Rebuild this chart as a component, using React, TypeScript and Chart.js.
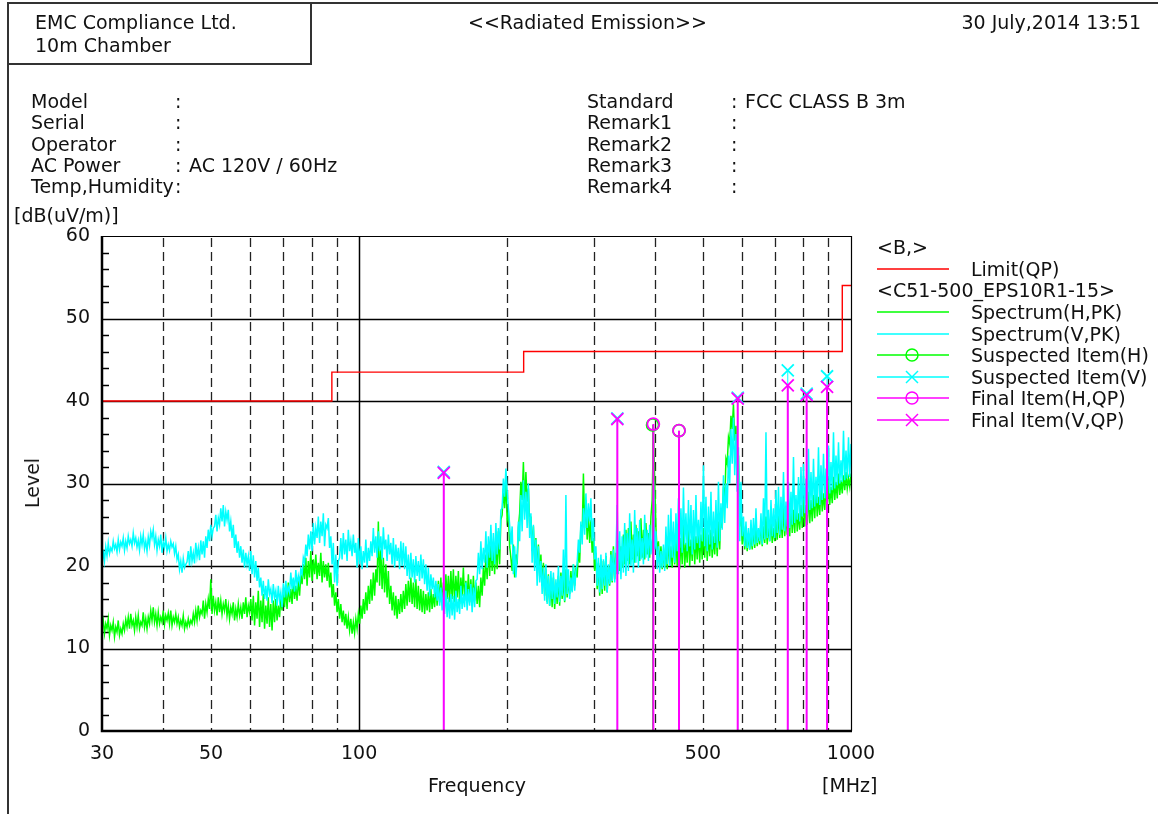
import React, { useEffect, useRef } from "react";
import { Chart, registerables } from "chart.js";

Chart.register(...registerables);

const FONT = '"DejaVu Sans", sans-serif';
const W = 1158;
const H = 814;

// ---------------- data ----------------
const limitFreq = [30, 88, 88, 216, 216, 960, 960, 1000];
const limitLevel = [40, 40, 43.5, 43.5, 46, 46, 54, 54];

const suspHFreq = [395.0, 447.0];
const suspHLevel = [37.1, 36.4];
const suspVFreq = [148.6, 334.9, 588.4, 743.8, 812.5, 894.0];
const suspVLevel = [31.4, 37.9, 40.4, 43.7, 40.9, 43.0];
const finalHFreq = [396.4, 447.0];
const finalHLevel = [37.2, 36.4];
const finalVFreq = [148.6, 334.9, 588.4, 743.8, 812.5, 894.0];
const finalVLevel = [31.3, 37.8, 40.3, 41.9, 40.7, 41.7];

const yTickValues = [0, 10, 20, 30, 40, 50, 60];
const xTickLabels = [30, 50, 100, 500, 1000];
const xGridDashed = [40, 50, 60, 70, 80, 90, 200, 300, 400, 500, 600, 700, 800, 900];
const xGridSolid = [100];
const yGridSolid = [10, 20, 30, 40, 50];

// Spectrum (V, PK) level readings along the sweep, 30 -> 1000 MHz
const specV = [
  20.1, 21.9, 20.6, 22.3, 21.2, 22.8, 21.5, 22.2, 21.8, 23.0, 22.1, 22.6, 21.7, 23.2, 22.0, 22.9, 22.4, 23.4, 21.9, 23.0,
  22.2, 23.6, 22.7, 23.2, 22.4, 24.0, 22.8, 23.4, 22.3, 23.1, 21.9, 23.6, 22.6, 23.8, 22.1, 23.0, 21.8, 23.5, 22.5, 24.2,
  23.4, 24.4, 22.6, 23.6, 21.9, 23.2, 22.4, 23.8, 21.6, 22.9, 22.2, 23.4, 21.8, 22.6, 21.9, 23.0, 22.3, 22.7, 21.5, 22.4,
  20.8, 21.4, 19.6, 20.6, 19.2, 20.9, 19.8, 20.2, 20.5, 21.8, 20.0, 22.4, 20.6, 21.6, 20.3, 22.8, 21.1, 22.2, 20.7, 23.1,
  21.4, 23.0, 21.0, 23.6, 22.2, 24.4, 23.0, 25.0, 23.6, 24.6, 24.8, 26.2, 24.2, 25.8, 25.0, 27.0, 25.4, 27.4, 24.8, 26.6,
  25.6, 26.8, 24.2, 25.4, 23.4, 25.0, 22.2, 23.8, 21.6, 23.0, 21.0, 22.4, 20.4, 22.0, 19.8, 21.6, 20.2, 21.2, 19.4, 21.8,
  19.0, 21.3, 18.6, 20.6, 18.2, 19.8, 17.4, 18.6, 16.4, 18.2, 16.0, 17.6, 15.8, 18.4, 16.6, 17.2, 15.5, 17.8, 16.2, 17.0,
  15.2, 17.6, 15.8, 16.8, 15.0, 17.9, 16.2, 18.2, 16.6, 17.4, 16.8, 19.2, 17.2, 18.6, 16.9, 19.5, 17.6, 18.8, 18.0, 19.6,
  19.0, 21.0, 20.4, 22.6, 21.2, 23.8, 22.0, 24.2, 21.8, 25.2, 22.6, 24.6, 23.4, 26.0, 22.8, 25.4, 23.6, 26.4, 22.4, 25.0,
  24.6, 25.8, 22.2, 23.6, 20.2, 22.8, 18.0, 21.4, 17.6, 20.6, 21.0, 23.4, 20.8, 24.0, 21.4, 23.2, 20.6, 24.4, 21.8, 23.0,
  21.2, 23.8, 21.6, 22.8, 19.8, 23.4, 20.2, 22.4, 19.6, 21.8, 20.4, 23.2, 19.8, 22.2, 20.6, 23.0, 21.2, 24.6, 21.6, 23.6,
  21.0, 24.2, 21.8, 23.6, 20.8, 24.7, 22.0, 23.2, 20.6, 23.8, 21.4, 22.8, 20.2, 23.4, 19.8, 22.6, 20.6, 22.2, 19.6, 23.0,
  20.0, 22.8, 19.6, 22.4, 18.8, 21.4, 18.4, 21.6, 18.6, 20.8, 18.0, 21.2, 18.8, 20.6, 18.2, 21.4, 18.5, 20.8, 17.8, 20.2,
  17.0, 19.8, 16.4, 19.0, 17.2, 18.6, 16.2, 18.2, 15.8, 17.8, 15.2, 17.4, 14.6, 16.8, 14.2, 17.0, 13.8, 16.2, 13.6, 16.6,
  14.0, 16.4, 13.5, 17.0, 14.4, 16.0, 14.2, 17.6, 14.8, 16.6, 15.0, 18.0, 14.6, 17.2, 15.2, 17.8, 14.4, 17.4, 15.0, 18.2,
  18.4, 21.6, 19.0, 23.0, 19.6, 22.2, 20.4, 24.2, 19.8, 23.6, 21.0, 25.0, 20.6, 24.0, 20.2, 25.2, 21.4, 24.6, 22.0, 26.8,
  27.0, 30.6, 28.4, 31.8, 29.2, 27.0, 25.0, 22.6, 24.8, 19.0, 22.4, 18.6, 21.0, 25.4, 23.0, 28.6, 24.2, 30.4, 25.6, 29.0,
  24.6, 30.0, 23.4, 26.4, 20.4, 25.0, 19.4, 23.2, 17.6, 22.4, 18.0, 20.6, 16.6, 19.8, 15.8, 20.2, 15.4, 18.8, 15.2, 19.4,
  16.0, 19.2, 15.4, 18.4, 16.2, 20.0, 15.6, 18.8, 16.4, 22.0, 15.8, 28.6, 16.6, 19.6, 16.0, 18.6, 16.8, 20.2, 17.0, 19.4,
  20.4, 23.2, 21.6, 25.4, 22.6, 27.0, 23.8, 28.8, 24.6, 27.6, 25.4, 28.2, 23.0, 25.8, 20.8, 22.4, 17.6, 21.0, 16.8, 21.4,
  17.2, 20.8, 17.6, 21.6, 16.8, 20.2, 17.8, 21.4, 18.2, 22.0, 18.0, 21.0, 27.4, 19.0, 24.2, 18.4, 23.6, 19.2, 25.2, 18.8,
  24.0, 19.4, 26.4, 20.0, 23.2, 19.2, 26.8, 20.4, 24.6, 19.8, 25.6, 20.8, 23.4, 20.2, 26.2, 21.0, 24.4, 20.6, 25.0, 21.4,
  23.4, 30.4, 22.0, 24.2, 19.6, 22.4, 19.2, 21.8, 19.8, 22.6, 19.4, 24.8, 20.2, 26.2, 20.0, 27.0, 21.0, 25.4, 20.4, 26.4,
  21.8, 28.2, 22.2, 27.0, 21.6, 29.5, 22.6, 26.4, 21.8, 28.0, 22.4, 27.4, 21.4, 26.8, 22.0, 28.6, 22.8, 25.6, 22.2, 27.8,
  23.0, 32.2, 22.4, 28.4, 21.8, 27.2, 22.6, 29.0, 22.0, 26.6, 22.8, 28.0, 22.2, 30.2, 23.0, 27.6, 24.4, 31.0, 25.2, 30.0,
  27.0, 33.4, 30.0, 36.6, 32.4, 38.0, 31.0, 36.0, 29.0, 34.4, 23.0, 30.2, 23.6, 26.0, 22.4, 25.4, 22.2, 24.6, 22.0, 25.6,
  22.4, 25.8, 22.6, 27.0, 22.8, 24.6, 23.0, 26.4, 22.6, 28.2, 23.2, 36.2, 23.4, 26.8, 23.0, 28.0, 23.6, 27.0, 23.4, 29.2,
  24.0, 29.6, 23.8, 28.4, 24.4, 31.4, 24.2, 27.8, 24.8, 30.2, 24.6, 29.0, 25.0, 33.2, 25.2, 28.6, 25.6, 30.8, 25.4, 32.0,
  26.0, 32.4, 26.4, 30.6, 26.2, 34.2, 26.8, 31.4, 27.0, 33.0, 27.2, 30.8, 27.6, 34.4, 27.4, 32.2, 28.0, 33.6, 28.2, 31.8,
  28.6, 34.6, 28.8, 32.6, 29.2, 36.2, 29.4, 33.4, 29.8, 35.0, 30.0, 32.8, 30.2, 36.4, 30.4, 34.0, 30.6, 35.6, 30.8, 34.8,
];

// Spectrum (H, PK) level readings along the same sweep
const specH = [
  12.6, 13.4, 11.8, 13.0, 12.4, 13.6, 11.6, 12.8, 12.2, 13.2, 11.4, 12.6, 12.0, 13.4, 11.6, 12.4, 11.8, 13.0, 12.2, 13.5,
  12.6, 13.8, 12.4, 14.2, 12.8, 13.4, 12.2, 13.8, 12.6, 14.0, 12.4, 13.2, 12.8, 14.4, 12.6, 13.6, 12.4, 13.8, 13.0, 14.6,
  13.4, 15.0, 13.2, 14.2, 12.8, 14.4, 13.0, 13.8, 13.2, 14.6, 12.9, 14.0, 13.4, 14.3, 13.0, 14.6, 12.8, 13.8, 13.2, 14.2,
  13.0, 13.8, 12.6, 13.4, 12.8, 14.0, 12.4, 13.2, 12.6, 13.6, 12.8, 13.4, 13.0, 14.2, 13.2, 14.6, 13.4, 15.2, 13.8, 14.6,
  14.2, 15.8, 13.6, 15.4, 14.4, 16.0, 14.8, 18.4, 14.2, 16.4, 14.6, 15.6, 14.0, 16.2, 14.4, 15.8, 14.2, 15.4, 14.6, 16.0,
  14.0, 15.2, 13.6, 15.0, 14.2, 15.6, 13.4, 14.8, 13.8, 15.4, 14.0, 15.0, 13.6, 15.6, 14.2, 16.2, 13.8, 15.2, 14.4, 16.0,
  13.4, 16.4, 12.8, 15.6, 13.6, 17.0, 12.6, 15.8, 13.2, 16.6, 12.4, 15.2, 13.0, 16.2, 12.6, 15.4, 12.2, 15.8, 13.2, 16.0,
  13.4, 15.2, 13.8, 16.2, 14.6, 16.8, 15.0, 17.4, 14.8, 18.0, 15.6, 17.2, 15.4, 18.4, 16.0, 17.6, 15.8, 18.6, 16.4, 19.0,
  17.8, 20.2, 18.4, 21.0, 17.6, 20.6, 18.6, 21.8, 18.2, 20.8, 19.0, 21.4, 18.4, 20.4, 18.8, 21.6, 18.0, 20.6, 18.6, 20.2,
  18.2, 20.4, 17.4, 19.2, 16.2, 17.8, 15.2, 16.8, 14.4, 16.0, 13.6, 15.4, 13.2, 14.6, 12.8, 14.2, 12.4, 13.8, 12.2, 13.6,
  11.8, 13.2, 11.9, 13.6, 12.4, 14.2, 13.0, 15.2, 13.6, 16.0, 14.2, 16.8, 14.6, 17.6, 15.4, 18.4, 15.8, 19.2, 16.4, 19.6,
  18.0, 25.4, 17.6, 22.0, 17.2, 21.0, 16.8, 20.2, 16.2, 19.4, 15.4, 17.6, 14.6, 16.8, 14.0, 16.4, 13.6, 16.0, 14.2, 16.6,
  14.4, 17.0, 14.8, 17.8, 15.2, 18.2, 15.6, 18.6, 15.4, 18.0, 15.0, 18.4, 14.8, 17.6, 14.6, 17.2, 14.4, 17.0, 14.2, 16.6,
  14.6, 16.8, 14.4, 17.2, 14.8, 16.6, 15.0, 17.8, 15.2, 18.2, 15.6, 18.6, 15.4, 18.0, 15.8, 19.0, 16.0, 18.8, 15.6, 19.4,
  16.0, 19.6, 15.6, 18.8, 16.2, 19.4, 15.4, 18.6, 16.4, 19.8, 15.8, 18.2, 16.0, 19.0, 15.6, 18.4, 15.2, 18.8, 15.8, 18.0,
  15.4, 17.6, 15.0, 18.6, 16.4, 19.8, 17.6, 21.4, 18.4, 22.6, 18.8, 23.0, 19.4, 22.2, 19.0, 23.6, 19.6, 24.2, 20.2, 25.6,
  26.2, 29.4, 27.0, 30.2, 25.6, 26.4, 22.4, 21.0, 19.4, 22.6, 18.6, 21.4, 20.2, 24.6, 26.4, 30.2, 28.0, 32.6, 27.2, 31.4,
  27.8, 29.4, 24.6, 26.0, 21.8, 24.8, 20.4, 23.4, 19.2, 22.6, 18.8, 21.4, 17.6, 20.4, 16.4, 19.6, 15.6, 19.0, 15.2, 18.2,
  15.0, 18.6, 14.8, 17.6, 15.4, 18.8, 15.2, 19.2, 16.0, 18.4, 15.6, 19.6, 16.2, 18.2, 16.6, 19.4, 17.0, 20.2, 17.6, 19.8,
  18.6, 22.0, 20.4, 25.0, 23.6, 31.2, 24.6, 28.0, 23.2, 26.4, 22.8, 25.6, 21.6, 23.4, 19.4, 21.6, 17.2, 20.4, 16.4, 20.8,
  16.6, 20.6, 17.0, 21.2, 16.8, 20.0, 17.6, 21.8, 18.0, 22.4, 18.4, 21.6, 19.0, 23.0, 19.4, 22.4, 19.8, 23.8, 20.2, 24.4,
  20.6, 24.6, 20.2, 25.4, 20.8, 23.8, 20.4, 25.0, 21.2, 24.2, 20.6, 25.8, 21.0, 24.4, 20.8, 25.2, 21.4, 24.0, 21.0, 26.0,
  28.0, 36.8, 30.4, 24.6, 21.6, 23.0, 19.8, 22.4, 19.6, 21.8, 19.8, 22.8, 19.6, 23.6, 20.0, 22.4, 19.8, 24.0, 20.2, 23.2,
  20.0, 24.2, 19.6, 23.4, 20.2, 25.0, 19.8, 22.8, 20.4, 24.4, 20.0, 23.2, 20.6, 24.8, 20.2, 23.6, 20.8, 24.0, 20.4, 23.8,
  20.8, 24.6, 21.0, 25.0, 20.6, 23.8, 21.2, 24.4, 21.0, 23.6, 21.4, 24.8, 21.2, 25.4, 22.0, 27.0, 24.6, 29.6, 27.4, 33.0,
  32.4, 35.6, 34.8, 38.2, 36.6, 39.6, 35.2, 37.0, 30.0, 33.4, 24.8, 27.0, 22.6, 24.8, 22.0, 24.4, 21.8, 24.0, 22.0, 23.8,
  22.0, 24.6, 22.2, 25.2, 22.4, 24.2, 22.6, 25.6, 22.4, 24.8, 22.8, 26.0, 22.6, 25.0, 23.0, 25.6, 22.8, 24.6, 23.0, 25.4,
  23.2, 26.6, 23.4, 25.8, 23.4, 27.2, 23.6, 26.0, 23.8, 26.4, 23.6, 27.6, 24.0, 26.8, 24.0, 28.0, 24.2, 26.4, 24.4, 27.4,
  24.6, 28.2, 24.8, 27.4, 25.0, 29.0, 25.2, 28.0, 25.4, 28.6, 25.8, 29.4, 26.0, 28.4, 26.2, 29.8, 26.6, 28.8, 26.8, 30.0,
  27.0, 30.4, 27.4, 29.6, 27.6, 30.8, 28.0, 30.2, 28.2, 31.2, 28.6, 30.4, 28.8, 31.0, 29.2, 31.4, 29.4, 30.6, 29.6, 31.2,
];

// sweep frequency grid of the receiver (log spaced, 30 - 1000 MHz)
const SWEEP_START = 30;
const SWEEP_STOP = 1000;
const sweepFreq = (n: number) =>
  Array.from({ length: n }, (_, i) => SWEEP_START * Math.pow(SWEEP_STOP / SWEEP_START, i / (n - 1)));

const RED = "#ff0000";
const GREEN = "#00ff00";
const CYAN = "#00ffff";
const MAGENTA = "#ff00ff";

const toXY = (fs: number[], vs: number[]) => fs.map((f, i) => ({ x: f, y: vs[i] }));
const sticks = (fs: number[], vs: number[]) => {
  const out: any[] = [];
  fs.forEach((f, i) => {
    out.push({ x: f, y: 0 }, { x: f, y: vs[i] }, { x: f, y: null });
  });
  return out;
};

const gridPlugin = {
  id: "emcGrid",
  beforeDatasetsDraw(chart: any) {
    const { ctx, chartArea } = chart;
    const { left, right, top, bottom } = chartArea;
    const xs = chart.scales.x;
    const ys = chart.scales.y;
    ctx.save();
    ctx.strokeStyle = "#000";
    ctx.lineWidth = 1.5;
    ctx.setLineDash([]);
    yGridSolid.forEach((v) => {
      const y = Math.round(ys.getPixelForValue(v)) + 0.5;
      ctx.beginPath();
      ctx.moveTo(left, y);
      ctx.lineTo(right, y);
      ctx.stroke();
    });
    xGridSolid.forEach((v) => {
      const x = Math.round(xs.getPixelForValue(v)) + 0.5;
      ctx.beginPath();
      ctx.moveTo(x, top);
      ctx.lineTo(x, bottom);
      ctx.stroke();
    });
    ctx.strokeStyle = "#222";
    ctx.lineWidth = 1.3;
    ctx.setLineDash([9, 5]);
    xGridDashed.forEach((v) => {
      const x = Math.round(xs.getPixelForValue(v)) + 0.5;
      ctx.beginPath();
      ctx.moveTo(x, top + 2);
      ctx.lineTo(x, bottom);
      ctx.stroke();
    });
    ctx.setLineDash([]);
    ctx.strokeStyle = "#000";
    ctx.lineWidth = 1.5;
    for (let v = 2; v < 60; v += 2) {
      if (v % 10 === 0) continue;
      const y = Math.round(ys.getPixelForValue(v)) + 0.5;
      ctx.beginPath();
      ctx.moveTo(left, y);
      ctx.lineTo(left + 7, y);
      ctx.stroke();
    }
    ctx.restore();
  },
  afterDatasetsDraw(chart: any) {
    const { ctx, chartArea } = chart;
    const { left, right, top, bottom } = chartArea;
    ctx.save();
    ctx.strokeStyle = "#000";
    ctx.lineWidth = 1.2;
    ctx.beginPath();
    ctx.moveTo(left, top + 0.5);
    ctx.lineTo(right + 0.5, top + 0.5);
    ctx.lineTo(right + 0.5, bottom);
    ctx.stroke();
    ctx.lineWidth = 2.5;
    ctx.beginPath();
    ctx.moveTo(left, top);
    ctx.lineTo(left, bottom);
    ctx.lineTo(right + 1, bottom);
    ctx.stroke();
    ctx.restore();
  },
};

function ChartCanvas() {
  const ref = useRef<HTMLCanvasElement>(null);
  useEffect(() => {
    if (!ref.current) return;
    const fH = sweepFreq(specH.length);
    const fV = sweepFreq(specV.length);
    const chart = new Chart(ref.current, {
      type: "line",
      data: {
        datasets: [
          {
            label: "Final Item(V,QP)",
            data: toXY(finalVFreq, finalVLevel),
            showLine: false,
            pointStyle: "crossRot",
            pointRadius: 8.5,
            pointBorderWidth: 1.8,
            borderColor: MAGENTA,
            backgroundColor: "transparent",
            order: 0,
          },
          {
            label: "Final Item(H,QP)",
            data: toXY(finalHFreq, finalHLevel),
            showLine: false,
            pointStyle: "circle",
            pointRadius: 6,
            pointBorderWidth: 1.8,
            borderColor: MAGENTA,
            backgroundColor: "transparent",
            order: 1,
          },
          {
            label: "Suspected Item(V)",
            data: toXY(suspVFreq, suspVLevel),
            showLine: false,
            pointStyle: "crossRot",
            pointRadius: 8.5,
            pointBorderWidth: 1.8,
            borderColor: CYAN,
            backgroundColor: "transparent",
            order: 2,
          },
          {
            label: "Suspected Item(H)",
            data: toXY(suspHFreq, suspHLevel),
            showLine: false,
            pointStyle: "circle",
            pointRadius: 6,
            pointBorderWidth: 1.8,
            borderColor: GREEN,
            backgroundColor: "transparent",
            order: 3,
          },
          {
            label: "final sticks",
            data: [...sticks(finalVFreq, finalVLevel), ...sticks(finalHFreq, finalHLevel)],
            borderColor: MAGENTA,
            borderWidth: 2,
            pointRadius: 0,
            spanGaps: false,
            order: 4,
          },
          {
            label: "susp V sticks",
            data: sticks(suspVFreq, suspVLevel),
            borderColor: CYAN,
            borderWidth: 1,
            pointRadius: 0,
            spanGaps: false,
            order: 5,
          },
          {
            label: "susp H sticks",
            data: sticks(suspHFreq, suspHLevel),
            borderColor: GREEN,
            borderWidth: 1,
            pointRadius: 0,
            spanGaps: false,
            order: 6,
          },
          {
            label: "Limit(QP)",
            data: toXY(limitFreq, limitLevel),
            borderColor: RED,
            borderWidth: 1.4,
            pointRadius: 0,
            order: 7,
          },
          {
            label: "Spectrum(V,PK)",
            data: toXY(fV, specV),
            borderColor: CYAN,
            borderWidth: 1.5,
            pointRadius: 0,
            order: 8,
          },
          {
            label: "Spectrum(H,PK)",
            data: toXY(fH, specH),
            borderColor: GREEN,
            borderWidth: 1.5,
            pointRadius: 0,
            order: 9,
          },
        ],
      },
      options: {
        animation: false,
        responsive: false,
        events: [],
        layout: { padding: { left: 0, right: W - 851, top: 236, bottom: 43 } },
        plugins: { legend: { display: false }, tooltip: { enabled: false } },
        elements: { line: { tension: 0 } },
        scales: {
          x: {
            type: "logarithmic",
            min: 30,
            max: 1000,
            afterBuildTicks: (s: any) => {
              s.ticks = xTickLabels.map((v) => ({ value: v }));
            },
            afterFit: (s: any) => {
              s.height = 40;
            },
            ticks: {
              autoSkip: false,
              maxRotation: 0,
              padding: 12,
              color: "#111",
              font: { family: FONT, size: 19 },
              callback: (v: any) => String(v),
            },
            grid: { display: false, drawTicks: false },
            border: { display: false },
          },
          y: {
            type: "linear",
            min: 0,
            max: 60,
            afterBuildTicks: (s: any) => {
              s.ticks = yTickValues.map((v) => ({ value: v }));
            },
            afterFit: (s: any) => {
              s.width = 102;
            },
            ticks: {
              padding: 12,
              color: "#111",
              font: { family: FONT, size: 19 },
              callback: (v: any) => String(v),
            },
            grid: { display: false, drawTicks: false },
            border: { display: false },
          },
        },
      },
      plugins: [gridPlugin],
    } as any);
    return () => chart.destroy();
  }, []);
  return (
    <canvas
      ref={ref}
      width={W}
      height={H}
      style={{ position: "absolute", left: 0, top: 0, width: W, height: H }}
    />
  );
}

function T({ x, y, children, align = "left", style = {} }: any) {
  const s: any = {
    position: "absolute",
    top: y - 11,
    lineHeight: "22px",
    whiteSpace: "nowrap",
    ...style,
  };
  if (align === "left") s.left = x;
  else if (align === "right") s.right = W - x;
  else {
    s.left = x;
    s.transform = "translateX(-50%)";
  }
  return <div style={s}>{children}</div>;
}

function LegendSample({ y, color, marker }: any) {
  return (
    <svg width={76} height={18} style={{ position: "absolute", left: 875, top: y - 9 }}>
      <line x1={2} y1={9} x2={74} y2={9} stroke={color} strokeWidth={1.5} />
      {marker === "circle" && (
        <circle cx={37} cy={9} r={6} stroke={color} strokeWidth={1.5} fill="none" />
      )}
      {marker === "x" && (
        <g stroke={color} strokeWidth={1.5}>
          <line x1={31} y1={3} x2={43} y2={15} />
          <line x1={43} y1={3} x2={31} y2={15} />
        </g>
      )}
    </svg>
  );
}

const legendRows = [
  { label: "Limit(QP)", color: RED, marker: "", y: 269 },
  { label: "Spectrum(H,PK)", color: GREEN, marker: "", y: 312 },
  { label: "Spectrum(V,PK)", color: CYAN, marker: "", y: 334 },
  { label: "Suspected Item(H)", color: GREEN, marker: "circle", y: 355 },
  { label: "Suspected Item(V)", color: CYAN, marker: "x", y: 377 },
  { label: "Final Item(H,QP)", color: MAGENTA, marker: "circle", y: 398 },
  { label: "Final Item(V,QP)", color: MAGENTA, marker: "x", y: 420 },
];

const infoLeft = [
  { k: "Model", v: "", y: 101 },
  { k: "Serial", v: "", y: 122 },
  { k: "Operator", v: "", y: 144 },
  { k: "AC Power", v: "AC 120V / 60Hz", y: 165 },
  { k: "Temp,Humidity", v: "", y: 186 },
];
const infoRight = [
  { k: "Standard", v: "FCC CLASS B 3m", y: 101 },
  { k: "Remark1", v: "", y: 122 },
  { k: "Remark2", v: "", y: 144 },
  { k: "Remark3", v: "", y: 165 },
  { k: "Remark4", v: "", y: 186 },
];

export default function App() {
  const line = "2px solid #333";
  return (
    <div
      style={{
        position: "absolute",
        left: 0,
        top: 0,
        width: W,
        height: H,
        overflow: "hidden",
        background: "#fff",
        fontFamily: FONT,
        fontSize: 19,
        color: "#111",
      }}
    >
      <ChartCanvas />
      <div style={{ position: "absolute", left: 7, top: 2, width: W - 7, height: 0, borderTop: line }} />
      <div style={{ position: "absolute", left: 7, top: 2, width: 0, height: H, borderLeft: line }} />
      <div style={{ position: "absolute", left: 7, top: 2, width: 301, height: 59, border: line }} />

      <T x={35} y={22}>EMC Compliance Ltd.</T>
      <T x={35} y={45}>10m Chamber</T>
      <T x={468} y={22}>&lt;&lt;Radiated Emission&gt;&gt;</T>
      <T x={1141} y={22} align="right">30 July,2014 13:51</T>

      {infoLeft.map((r) => (
        <React.Fragment key={r.k}>
          <T x={31} y={r.y}>{r.k}</T>
          <T x={175} y={r.y}>:</T>
          {r.v && <T x={189} y={r.y}>{r.v}</T>}
        </React.Fragment>
      ))}
      {infoRight.map((r) => (
        <React.Fragment key={r.k}>
          <T x={587} y={r.y}>{r.k}</T>
          <T x={731} y={r.y}>:</T>
          {r.v && <T x={745} y={r.y}>{r.v}</T>}
        </React.Fragment>
      ))}

      <T x={14} y={215}>[dB(uV/m)]</T>
      <div
        style={{
          position: "absolute",
          left: 32,
          top: 483,
          transform: "translate(-50%, -50%) rotate(-90deg)",
          lineHeight: "22px",
          whiteSpace: "nowrap",
        }}
      >
        Level
      </div>
      <T x={477} y={785} align="center">Frequency</T>
      <T x={822} y={785}>[MHz]</T>

      <T x={877} y={247}>&lt;B,&gt;</T>
      <T x={877} y={290}>&lt;C51-500_EPS10R1-15&gt;</T>
      {legendRows.map((r) => (
        <React.Fragment key={r.label}>
          <LegendSample y={r.y} color={r.color} marker={r.marker} />
          <T x={971} y={r.y}>{r.label}</T>
        </React.Fragment>
      ))}
    </div>
  );
}
